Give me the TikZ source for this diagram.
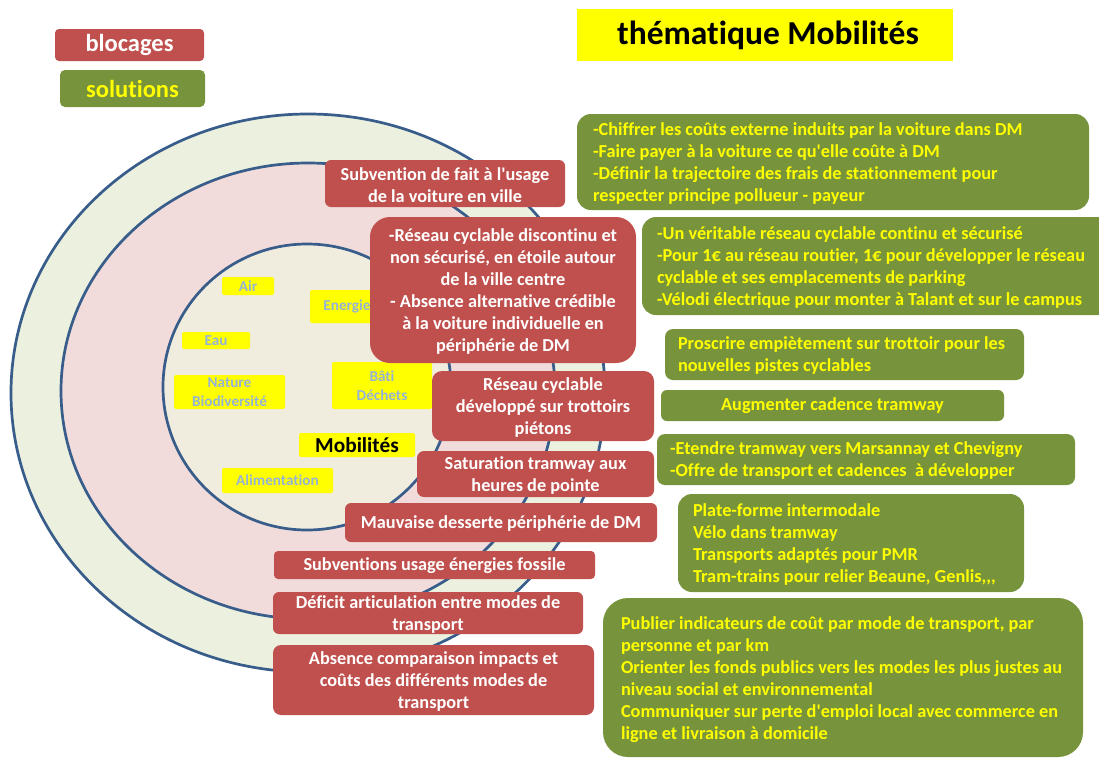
\documentclass[tikz,border=0pt]{standalone}
\usepackage{fontspec}
\setmainfont{Carlito}[Ligatures=NoCommon]
\definecolor{cred}{RGB}{192,80,77}
\definecolor{cgreen}{RGB}{119,147,60}
\definecolor{cyel}{RGB}{255,255,0}
\definecolor{clbl}{RGB}{149,179,215}
\definecolor{ringline}{RGB}{56,93,138}
\definecolor{ringout}{RGB}{235,241,222}
\definecolor{ringmid}{RGB}{242,220,219}
\definecolor{ringin}{RGB}{240,236,222}
\newcommand{\sq}{\textquotesingle}
\begin{document}
\begin{tikzpicture}[x=1pt,y=-1pt,
  ring/.style={draw=ringline, line width=2.7pt},
  redbox/.style={fill=cred, inner sep=0pt},
  rtext/.style={text=white, font=\bfseries\fontsize{18.3}{22}\selectfont, align=center, inner sep=0pt},
  gbox/.style={fill=cgreen, inner sep=0pt},
  gtext/.style={text=cyel, font=\bfseries\fontsize{18.3}{22}\selectfont, align=left, inner sep=0pt, anchor=west},
  lbl/.style={fill=cyel, text=clbl, font=\bfseries\fontsize{15.2}{18.5}\selectfont, align=center, inner sep=0pt, rounded corners=2pt}
]
\useasboundingbox (0,0) rectangle (1099,758);
\fill[white] (0,0) rectangle (1099,758);

% rings
\path[ring, fill=ringout] (308,393) ellipse [x radius=297, y radius=279];
\path[ring, fill=ringmid] (308,391) ellipse [x radius=247, y radius=228];
\path[ring, fill=ringin] (307,387) ellipse [x radius=144, y radius=143];

% inner labels
\node[lbl, minimum width=52, minimum height=18] (air) at (248,286) {Air};
\node[lbl, minimum width=74, minimum height=33] (ener) at (347,306.5) {Energie};
\node[lbl, minimum width=68, minimum height=17] (eau) at (216,340.5) {Eau};
\node[lbl, minimum width=111, minimum height=34] (nat) at (229.5,392) {Nature\\Biodiversité};
\node[lbl, minimum width=100, minimum height=47] (bati) at (382,385.5) {Bâti\\Déchets};
\node[lbl, minimum width=116, minimum height=24, text=black, font=\bfseries\fontsize{21.3}{24}\selectfont] (mob) at (357,445) {Mobilités};
\node[lbl, minimum width=111, minimum height=25] (alim) at (277.5,480.5) {Alimentation};

% blocages
\node[redbox, minimum width=240, minimum height=47, rounded corners=6pt] (r1) at (445,183.5) {};
\node[rtext] (r1t) at ([yshift=-2pt]r1.center) {Subvention de fait à l\sq usage\\de la voiture en ville};
\node[redbox, minimum width=266, minimum height=146, rounded corners=20pt] (r2) at (503,290) {};
\node[rtext] (r2t) at ([yshift=-2pt]r2.center) {-Réseau cyclable discontinu et\\non sécurisé, en étoile autour\\de la ville centre\\- Absence alternative crédible\\à la voiture individuelle en\\périphérie de DM};
\node[redbox, minimum width=222, minimum height=70, rounded corners=10pt] (r3) at (543,406) {};
\node[rtext] (r3t) at ([yshift=-1.5pt]r3.center) {Réseau cyclable\\développé sur trottoirs\\piétons};
\node[redbox, minimum width=237, minimum height=46, rounded corners=7pt] (r4) at (535.5,474) {};
\node[rtext] (r4t) at ([yshift=-2pt]r4.center) {Saturation tramway aux\\heures de pointe};
\node[redbox, minimum width=312, minimum height=39, rounded corners=6pt] (r5) at (501,522.5) {};
\node[rtext] (r5t) at ([yshift=-1pt]r5.center) {Mauvaise desserte périphérie de DM};
\node[redbox, minimum width=321, minimum height=28, rounded corners=4pt] (r6) at (434.5,565) {};
\node[rtext] (r6t) at ([yshift=-1pt]r6.center) {Subventions usage énergies fossile};
\node[redbox, minimum width=310, minimum height=42, rounded corners=6pt] (r7) at (428,613) {};
\node[rtext] (r7t) at ([yshift=-2pt]r7.center) {Déficit articulation entre modes de\\transport};
\node[redbox, minimum width=321, minimum height=70, rounded corners=8pt] (r8) at (433.5,680) {};
\node[rtext] (r8t) at ([yshift=-2pt]r8.center) {Absence comparaison impacts et\\coûts des différents modes de\\transport};

% solutions
\node[gbox, minimum width=512, minimum height=96, rounded corners=14pt] (g1) at (833,162) {};
\node[gtext] (g1t) at ([xshift=16pt,yshift=-2pt]g1.west) {-Chiffrer les coûts externe induits par la voiture dans DM\\-Faire payer à la voiture ce qu\sq elle coûte à DM\\-Définir la trajectoire des frais de stationnement pour\\respecter principe pollueur - payeur};
\node[gbox, minimum width=470, minimum height=98, rounded corners=14pt] (g2) at (877,266) {};
\node[gtext] (g2t) at ([xshift=15pt,yshift=-2pt]g2.west) {-Un véritable réseau cyclable continu et sécurisé\\-Pour 1€ au réseau routier, 1€ pour développer le réseau\\cyclable et ses emplacements de parking\\-Vélodi électrique pour monter à Talant et sur le campus};
\node[gbox, minimum width=359, minimum height=51, rounded corners=8pt] (g3) at (844.5,354.5) {};
\node[gtext] (g3t) at ([xshift=13pt,yshift=-1pt]g3.west) {Proscrire empiètement sur trottoir pour les\\nouvelles pistes cyclables};
\node[gbox, minimum width=343, minimum height=31, rounded corners=6pt] (g4) at (832.5,405.5) {};
\node[gtext, anchor=center] (g4t) at (g4.center) {Augmenter cadence tramway};
\node[gbox, minimum width=418, minimum height=51, rounded corners=8pt] (g5) at (866,459.5) {};
\node[gtext] (g5t) at ([xshift=13pt,yshift=-1pt]g5.west) {-Etendre tramway vers Marsannay et Chevigny\\-Offre de transport et cadences \ à développer};
\node[gbox, minimum width=346, minimum height=98, rounded corners=14pt] (g6) at (851,543) {};
\node[gtext] (g6t) at ([xshift=15pt,yshift=-2pt]g6.west) {Plate-forme intermodale\\Vélo dans tramway\\Transports adaptés pour PMR\\Tram-trains pour relier Beaune, Genlis,{},{},};
\node[gbox, minimum width=480, minimum height=159, rounded corners=25pt] (g7) at (843,677.5) {};
\node[gtext] (g7t) at ([xshift=18pt,yshift=-2pt]g7.west) {Publier indicateurs de coût par mode de transport, par\\personne et par km\\Orienter les fonds publics vers les modes les plus justes au\\niveau social et environnemental\\Communiquer sur perte d\sq emploi local avec commerce en\\ligne et livraison à domicile};

% legend and title
\node[fill=cred, text=white, font=\bfseries\fontsize{24.5}{28}\selectfont, inner sep=0pt, minimum width=149, minimum height=32, rounded corners=4pt] (leg1) at (129.5,45) {blocages};
\node[fill=cgreen, text=cyel, font=\bfseries\fontsize{24.5}{28}\selectfont, inner sep=0pt, minimum width=145, minimum height=37, rounded corners=5pt] (leg2) at (132.5,88.5) {solutions};
\node[fill=cyel, inner sep=0pt, minimum width=376, minimum height=52] (title) at (765,35) {};
\node[text=black, font=\bfseries\fontsize{33.5}{38}\selectfont, inner sep=0pt] (titlet) at ([xshift=3pt]title.center) {thématique Mobilités};
\end{tikzpicture}
\end{document}
